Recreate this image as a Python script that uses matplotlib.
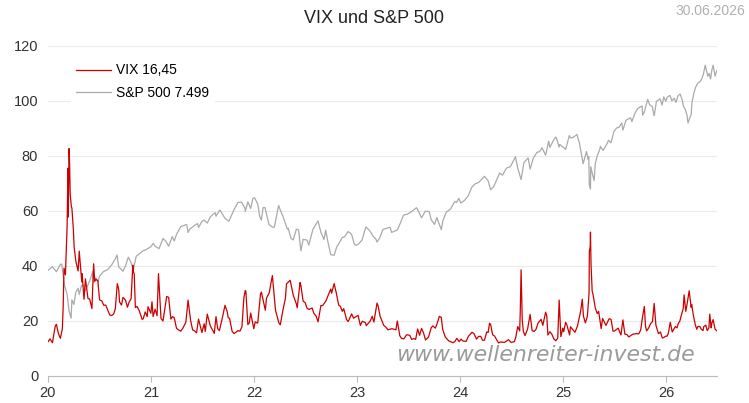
import pandas as pd
import matplotlib.pyplot as plt
import matplotlib.dates as mdates

plt.rcParams['font.family'] = ['Liberation Sans', 'DejaVu Sans']

# VIX (daily close)
vix_dates = [
    '20-01-02', '20-01-08', '20-01-17', '20-01-27', '20-01-31', '20-02-07', '20-02-14', '20-02-21',
    '20-02-24', '20-02-27', '20-03-03', '20-03-09', '20-03-12', '20-03-13', '20-03-16', '20-03-18',
    '20-03-20', '20-03-24', '20-03-26', '20-03-31', '20-04-03', '20-04-09', '20-04-17', '20-04-21',
    '20-04-30', '20-05-08', '20-05-13', '20-05-22', '20-06-05', '20-06-11', '20-06-19', '20-06-26',
    '20-07-10', '20-07-24', '20-08-07', '20-08-21', '20-08-27', '20-09-03', '20-09-11', '20-09-23',
    '20-10-09', '20-10-22', '20-10-28', '20-10-30', '20-11-06', '20-11-20', '20-12-04', '20-12-18',
    '20-12-31',
    '21-01-08', '21-01-15', '21-01-22', '21-01-27', '21-02-05', '21-02-12', '21-02-25', '21-03-04',
    '21-03-12', '21-03-24', '21-04-09', '21-04-23', '21-05-12', '21-05-21', '21-06-04', '21-06-18',
    '21-06-30', '21-07-19', '21-07-30', '21-08-13', '21-08-19', '21-08-31', '21-09-20', '21-10-01',
    '21-10-15', '21-11-05', '21-11-26', '21-12-01', '21-12-10', '21-12-20', '21-12-31',
    '22-01-14', '22-01-24', '22-01-27', '22-02-10', '22-02-24', '22-03-07', '22-03-18', '22-04-04',
    '22-04-14', '22-04-26', '22-05-09', '22-05-20', '22-06-03', '22-06-13', '22-06-16', '22-07-01',
    '22-07-15', '22-08-01', '22-08-16', '22-09-01', '22-09-13', '22-09-30', '22-10-12', '22-10-28',
    '22-11-10', '22-11-25', '22-12-13', '22-12-30',
    '23-01-13', '23-01-31', '23-02-17', '23-03-02', '23-03-13', '23-03-24', '23-04-06', '23-04-21',
    '23-05-05', '23-05-19', '23-06-02', '23-06-16', '23-07-07', '23-07-21', '23-08-04', '23-08-18',
    '23-09-01', '23-09-21', '23-10-06', '23-10-20', '23-10-27', '23-11-10', '23-11-22', '23-12-07',
    '23-12-21', '23-12-29',
    '24-01-12', '24-01-31', '24-02-13', '24-02-29', '24-03-15', '24-03-28', '24-04-15', '24-04-19',
    '24-05-03', '24-05-17', '24-06-07', '24-06-21', '24-07-12', '24-07-24', '24-08-02', '24-08-05',
    '24-08-09', '24-08-19', '24-09-06', '24-09-20', '24-10-04', '24-10-31', '24-11-08', '24-11-22',
    '24-12-06', '24-12-18', '24-12-31',
    '25-01-10', '25-01-24', '25-02-07', '25-02-21', '25-03-10', '25-03-21', '25-04-03', '25-04-04',
    '25-04-08', '25-04-10', '25-04-17', '25-05-02', '25-05-16', '25-06-02', '25-06-13', '25-06-27',
    '25-07-15', '25-08-01', '25-08-15', '25-09-05', '25-09-19', '25-10-10', '25-10-16', '25-10-24',
    '25-11-07', '25-11-20', '25-12-05', '25-12-19', '25-12-31',
    '26-01-05', '26-01-16', '26-01-23', '26-02-03', '26-02-13', '26-02-24', '26-03-06', '26-03-12',
    '26-03-18', '26-03-24', '26-03-31', '26-04-08', '26-04-15', '26-04-24', '26-05-06', '26-05-15',
    '26-05-27', '26-06-05', '26-06-10', '26-06-17', '26-06-24', '26-06-30',
]
vix_values = [
    12.5, 13.5, 12.1, 18.2, 18.8, 15.5, 13.7, 17.1,
    25.0, 39.2, 36.8, 54.5, 75.5, 57.8, 82.7, 76.5,
    66.0, 61.7, 61.0, 53.5, 46.8, 41.7, 38.2, 45.4,
    34.2, 27.9, 35.3, 28.2, 24.5, 40.8, 35.1, 34.7,
    27.3, 25.8, 22.2, 22.5, 24.5, 33.6, 26.9, 28.6,
    25.0, 28.1, 40.3, 38.0, 24.9, 23.7, 20.8, 21.6,
    22.8,
    21.6, 24.3, 21.9, 37.2, 20.9, 20.0, 28.9, 28.6,
    20.7, 21.2, 16.7, 17.3, 27.6, 20.2, 16.4, 20.7,
    15.8, 22.5, 18.2, 15.5, 21.6, 16.5, 25.7, 21.2,
    16.3, 16.5, 28.6, 31.1, 18.7, 22.9, 17.2,
    19.2, 29.9, 30.5, 23.9, 30.3, 36.5, 23.9, 18.6,
    24.3, 33.5, 34.8, 29.4, 24.8, 34.0, 32.9, 26.7,
    24.2, 22.8, 19.7, 25.6, 27.3, 31.6, 33.6, 25.8,
    23.5, 20.5, 22.6, 21.7,
    18.4, 19.4, 20.0, 19.6, 26.5, 21.7, 18.4, 16.8,
    17.2, 16.8, 14.6, 13.5, 14.8, 13.6, 17.1, 17.3,
    13.1, 17.5, 17.4, 21.7, 21.3, 14.2, 12.8, 12.1,
    13.7, 12.5,
    12.7, 14.4, 15.9, 13.4, 14.4, 13.0, 19.2, 18.7,
    14.5, 12.0, 12.2, 13.2, 12.5, 18.0, 23.4, 38.6,
    20.4, 14.7, 22.4, 16.2, 19.2, 23.2, 14.9, 15.2,
    12.8, 27.6, 17.4,
    19.5, 14.9, 16.5, 18.2, 27.9, 19.3, 30.0, 45.3,
    52.3, 40.7, 29.7, 22.7, 17.2, 18.4, 20.8, 16.3,
    17.4, 20.4, 15.1, 15.2, 15.4, 21.7, 25.3, 16.4,
    19.0, 26.4, 15.4, 13.8, 14.5,
    14.5, 19.5, 16.0, 18.0, 19.0, 22.0, 29.5, 23.5,
    27.0, 31.0, 25.0, 22.0, 18.5, 18.0, 17.0, 18.0,
    16.5, 22.5, 17.5, 20.5, 17.0, 16.45,
]
# more VIX readings in between (sorted by date below)
vix_extra_dates = [
    '20-05-01', '20-05-28', '20-06-15', '20-07-02', '20-07-17', '20-08-14', '20-09-08', '20-09-18',
    '20-10-02', '20-10-15', '20-11-02', '20-11-12', '20-11-30', '20-12-11', '20-12-21',
    '21-01-04', '21-03-18', '21-04-01', '21-04-16', '21-05-04', '21-05-28', '21-06-11', '21-07-08',
    '21-07-12', '21-08-25', '21-09-10', '21-09-28', '21-10-06', '21-10-22', '21-11-12', '21-11-19',
    '21-12-03', '21-12-15',
    '22-01-05', '22-02-14', '22-03-01', '22-03-30', '22-04-22', '22-05-31', '22-06-24', '22-07-08',
    '22-07-26', '22-08-09', '22-08-26', '22-09-23', '22-10-03', '22-10-20', '22-11-03', '22-11-15',
    '22-12-01', '22-12-20',
    '23-01-05', '23-01-20', '23-02-03', '23-02-24', '23-03-17', '23-04-13', '23-05-12', '23-05-24',
    '23-06-08', '23-06-26', '23-07-14', '23-07-28', '23-08-11', '23-08-25', '23-09-12', '23-09-27',
    '23-10-13', '23-11-01', '23-12-14',
    '24-01-05', '24-01-23', '24-02-20', '24-03-07', '24-03-21', '24-04-05', '24-04-10', '24-04-26',
    '24-05-24', '24-06-14', '24-07-01', '24-07-17', '24-07-31', '24-08-13', '24-08-28', '24-09-13',
    '24-09-27', '24-10-15', '24-10-21', '24-11-04', '24-11-15', '24-11-29', '24-12-13', '24-12-24',
    '25-01-03', '25-01-14', '25-01-27', '25-02-12', '25-02-27', '25-03-04', '25-03-14', '25-03-28',
    '25-04-07', '25-04-14', '25-04-25', '25-05-07', '25-05-21', '25-06-20', '25-07-03', '25-07-25',
    '25-08-08', '25-08-22', '25-09-26', '25-10-03', '25-10-20', '25-10-31', '25-11-14', '25-11-26',
    '25-12-12', '25-12-24',
    '26-01-09', '26-02-09', '26-02-19', '26-03-03', '26-04-02', '26-04-20', '26-05-01', '26-05-12',
    '26-05-22', '26-06-02', '26-06-12',
]
vix_extra_values = [
    37.2, 28.0, 34.4, 27.7, 25.7, 22.0, 31.5, 25.8,
    27.6, 26.9, 37.1, 25.3, 20.6, 23.3, 25.2,
    27.0, 21.6, 17.3, 16.3, 19.5, 16.8, 15.7, 19.0,
    16.2, 17.2, 20.9, 23.3, 21.0, 15.4, 16.3, 17.9,
    30.7, 19.3,
    19.7, 28.3, 33.3, 19.3, 28.2, 26.2, 27.2, 24.6,
    24.7, 21.8, 25.6, 29.9, 30.1, 30.0, 25.3, 24.5,
    19.8, 21.0,
    22.0, 19.9, 18.3, 21.7, 25.5, 17.8, 17.0, 20.0,
    13.7, 15.0, 13.3, 13.3, 14.8, 15.7, 14.2, 18.2,
    19.3, 16.9, 12.5,
    13.4, 12.6, 15.4, 14.4, 13.0, 16.0, 15.8, 15.0,
    12.4, 12.7, 12.2, 14.0, 16.4, 16.2, 17.1, 16.5,
    17.0, 20.6, 18.4, 21.9, 16.1, 13.5, 13.8, 14.3,
    16.1, 18.7, 17.9, 15.9, 21.1, 23.5, 21.8, 21.7,
    47.0, 30.9, 24.8, 23.5, 20.9, 20.6, 16.4, 14.9,
    15.2, 14.2, 15.3, 16.7, 18.2, 17.4, 19.8, 18.5,
    16.0, 14.0,
    15.5, 17.5, 20.0, 24.5, 26.0, 17.0, 18.0, 16.5,
    18.5, 17.5, 19.0,
]

# S&P 500 as drawn on the chart's scale
sp_dates = [
    '20-01-02', '20-01-17', '20-01-31', '20-02-14', '20-02-19', '20-02-28', '20-03-09', '20-03-16',
    '20-03-23', '20-03-26', '20-04-09', '20-04-21', '20-04-29', '20-05-13', '20-05-29', '20-06-08',
    '20-06-11', '20-06-26', '20-07-15', '20-07-31', '20-08-14', '20-09-02', '20-09-23', '20-10-12',
    '20-10-30', '20-11-09', '20-11-27', '20-12-15', '20-12-31',
    '21-01-15', '21-01-29', '21-02-12', '21-03-04', '21-03-17', '21-04-16', '21-05-07', '21-05-12',
    '21-06-15', '21-06-30', '21-07-19', '21-07-30', '21-08-16', '21-09-02', '21-10-04', '21-10-22',
    '21-11-18', '21-12-01', '21-12-10', '21-12-20',
    '22-01-03', '22-01-14', '22-01-27', '22-02-02', '22-02-23', '22-03-08', '22-03-29', '22-04-14',
    '22-05-02', '22-05-20', '22-06-08', '22-06-16', '22-07-08', '22-08-16', '22-09-12', '22-09-30',
    '22-10-12', '22-11-01', '22-11-30', '22-12-13', '22-12-28',
    '23-01-05', '23-02-02', '23-03-09', '23-03-13', '23-04-28', '23-05-24', '23-06-15', '23-07-31',
    '23-08-18', '23-09-14', '23-10-03', '23-10-27', '23-11-14', '23-12-14', '23-12-28',
    '24-01-04', '24-01-31', '24-02-23', '24-03-28', '24-04-19', '24-05-21', '24-06-14', '24-07-16',
    '24-08-05', '24-08-30', '24-09-06', '24-09-30', '24-10-18', '24-10-31', '24-11-11', '24-12-06',
    '24-12-18', '24-12-31',
    '25-01-10', '25-01-23', '25-02-19', '25-03-13', '25-03-25', '25-04-04', '25-04-08', '25-04-09',
    '25-04-21', '25-05-02', '25-05-13', '25-05-23', '25-06-11', '25-06-30', '25-07-28', '25-08-01',
    '25-08-28', '25-09-22', '25-10-10', '25-10-28', '25-11-20', '25-12-11', '25-12-31',
    '26-01-15', '26-01-30', '26-02-13', '26-02-27', '26-03-10', '26-03-20', '26-03-31', '26-04-10',
    '26-04-24', '26-05-08', '26-05-20', '26-05-29', '26-06-08', '26-06-17', '26-06-24', '26-06-30',
]
sp_values = [
    38.5, 39.7, 37.9, 40.6, 40.7, 33.3, 29.7, 23.6,
    21.0, 27.7, 30.5, 29.6, 33.0, 31.0, 34.8, 38.0,
    34.1, 34.2, 37.9, 38.7, 40.4, 44.0, 38.1, 43.2,
    38.7, 43.5, 45.0, 46.0, 47.0,
    47.2, 46.3, 50.0, 47.2, 50.7, 54.3, 55.1, 52.2,
    55.4, 56.2, 55.6, 57.9, 59.4, 60.3, 56.3, 60.5,
    63.2, 59.9, 63.3, 60.9,
    64.8, 62.5, 56.7, 61.2, 55.0, 54.1, 62.0, 57.9,
    53.8, 49.5, 53.1, 45.5, 49.4, 56.4, 53.0, 44.1,
    43.9, 48.7, 52.5, 51.5, 47.5,
    47.9, 54.2, 49.8, 48.7, 54.1, 53.1, 58.5, 61.2,
    57.5, 59.8, 55.1, 53.2, 59.6, 63.5, 64.6,
    62.9, 65.6, 69.8, 72.6, 67.7, 73.8, 75.6, 79.7,
    71.4, 79.3, 75.2, 81.3, 83.0, 80.3, 85.4, 86.9,
    83.2, 83.3,
    82.4, 87.4, 87.8, 77.2, 81.6, 69.5, 68.0, 76.1,
    71.0, 80.0, 83.5, 82.0, 85.7, 88.9, 92.0, 89.4,
    93.9, 97.2, 94.8, 100.6, 94.6, 100.8, 99.9,
    102.0, 101.0, 102.0, 100.5, 97.0, 92.0, 95.0, 103.0,
    106.5, 108.0, 113.0, 109.0, 108.0, 113.0, 109.0, 111.0,
]
sp_extra_dates = [
    '20-04-02', '20-04-17', '20-05-08', '20-06-19', '20-07-02', '20-08-28', '20-09-08', '20-10-02',
    '20-10-20', '20-12-01',
    '21-01-08', '21-02-22', '21-03-24', '21-04-01', '21-04-29', '21-05-18', '21-06-07', '21-06-18',
    '21-07-08', '21-08-19', '21-08-31', '21-09-20', '21-11-05', '21-11-30', '21-12-28',
    '22-01-21', '22-02-09', '22-03-14', '22-04-05', '22-04-29', '22-05-12', '22-05-31', '22-06-24',
    '22-07-14', '22-07-29', '22-08-26', '22-09-06', '22-09-20', '22-10-21', '22-11-10', '22-11-18',
    '22-12-01', '22-12-22',
    '23-01-19', '23-01-27', '23-02-16', '23-02-28', '23-03-22', '23-04-03', '23-05-04', '23-06-01',
    '23-06-30', '23-07-14', '23-08-08', '23-08-31', '23-09-21', '23-10-11', '23-11-02', '23-11-28',
    '23-12-20',
    '24-01-17', '24-02-12', '24-03-08', '24-04-10', '24-04-30', '24-05-31', '24-06-28', '24-07-24',
    '24-08-15', '24-09-17', '24-10-10', '24-11-15', '24-11-29', '24-12-09', '24-12-20',
    '25-01-02', '25-01-28', '25-02-06', '25-02-28', '25-03-10', '25-03-31', '25-04-02', '25-04-16',
    '25-04-25', '25-05-12', '25-06-05', '25-06-20', '25-07-10', '25-07-18', '25-08-12', '25-09-02',
    '25-09-12', '25-10-08', '25-10-16', '25-11-04', '25-11-13', '25-11-28', '25-12-18', '25-12-24',
    '26-01-06', '26-01-22', '26-02-05', '26-02-20', '26-03-04', '26-03-16', '26-03-25', '26-04-03',
    '26-04-16', '26-05-01', '26-05-14', '26-06-03', '26-06-12',
]
sp_extra_values = [
    26.0, 31.9, 32.9, 35.7, 36.3, 42.8, 39.7, 40.0,
    41.6, 45.4,
    48.2, 49.0, 49.1, 51.5, 54.8, 53.4, 55.0, 54.0,
    56.7, 58.1, 60.1, 57.3, 63.1, 60.9, 64.6,
    58.0, 61.2, 54.1, 60.1, 53.4, 50.0, 53.4, 49.7,
    47.6, 53.4, 52.2, 49.6, 48.7, 46.9, 50.4, 50.6,
    52.5, 48.1,
    49.4, 52.4, 52.7, 50.7, 50.1, 53.3, 52.2, 54.9,
    58.9, 59.8, 59.7, 59.9, 56.8, 57.6, 56.6, 60.6,
    63.1,
    63.8, 68.6, 70.4, 71.0, 68.9, 73.0, 76.1, 75.6,
    77.6, 79.1, 81.6, 83.1, 85.9, 86.3, 84.2,
    83.1, 86.5, 86.8, 84.6, 78.8, 78.7, 79.7, 73.0,
    77.2, 82.7, 84.3, 84.8, 90.2, 90.4, 93.0, 92.5,
    95.4, 98.2, 96.0, 98.6, 98.0, 99.9, 98.5, 101.5,
    101.5, 100.0, 99.5, 102.5, 98.0, 95.0, 93.5, 99.5,
    105.0, 107.0, 110.0, 110.0, 111.0,
]

y_ticks = [0, 20, 40, 60, 80, 100, 120]

vix = pd.Series(vix_values + vix_extra_values,
                index=pd.to_datetime(vix_dates + vix_extra_dates, format='%y-%m-%d')).sort_index()
sp = pd.Series(sp_values + sp_extra_values,
               index=pd.to_datetime(sp_dates + sp_extra_dates, format='%y-%m-%d')).sort_index()

fig = plt.figure(figsize=(7.49, 4.03), dpi=100)
ax = fig.add_axes([0.064, 0.067, 0.893, 0.819])

ax.plot(sp.index, sp.values, color='#aaaaaa', lw=0.9, label='S&P 500 7.499', zorder=3)
ax.plot(vix.index, vix.values, color='#cc0000', lw=0.9, label='VIX 16,45', zorder=4)

ax.set_ylim(0, 120)
ax.set_yticks(y_ticks)
ax.set_xlim(pd.Timestamp('2020-01-01'), pd.Timestamp('2026-06-30'))
ax.xaxis.set_major_locator(mdates.YearLocator())
ax.xaxis.set_major_formatter(mdates.DateFormatter('%y'))

ax.grid(axis='y', color='#ebebeb', lw=0.8)
ax.set_axisbelow(True)
for s in ['top', 'right', 'left']:
    ax.spines[s].set_visible(False)
ax.spines['bottom'].set_color('#bbbbbb')
ax.tick_params(axis='y', length=0, pad=7, labelsize=10.5, labelcolor='#333333')
ax.tick_params(axis='x', length=4, color='#bbbbbb', pad=3, labelsize=10.5, labelcolor='#333333')

# legend: VIX first, then S&P
h, l = ax.get_legend_handles_labels()
leg = ax.legend(h[::-1], l[::-1], loc='upper left', bbox_to_anchor=(0.024, 0.985),
                frameon=True, fancybox=False, edgecolor='white', framealpha=1,
                fontsize=10, handlelength=2.45, handletextpad=0.4, labelspacing=0.6,
                borderpad=0.4)
leg.get_frame().set_linewidth(0)

fig.text(0.5, 0.955, 'VIX und S&P 500', ha='center', va='center', fontsize=13, color='#222222')
fig.text(0.995, 0.972, '30.06.2026', ha='right', va='center', fontsize=10, color='#b0b0b0')
ax.text(0.744, 0.064, 'www.wellenreiter-invest.de', transform=ax.transAxes, ha='center',
        va='center', fontsize=15.8, style='italic', color='#9a9a9a',
        family=['DejaVu Sans'], zorder=5)

plt.savefig('out.png', dpi=100)
